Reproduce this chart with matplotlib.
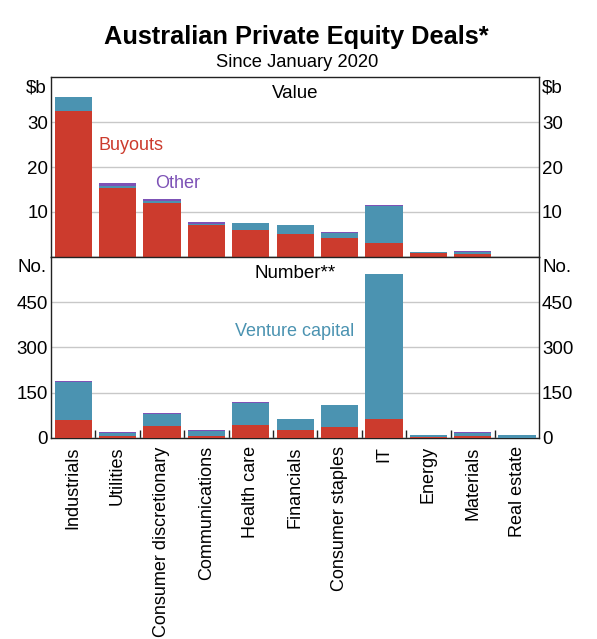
import numpy as np
import matplotlib.pyplot as plt
from matplotlib.ticker import FixedLocator

plt.rcParams["font.family"] = ["Liberation Sans", "DejaVu Sans"]

categories = ["Industrials", "Utilities", "Consumer discretionary", "Communications",
              "Health care", "Financials", "Consumer staples", "IT", "Energy",
              "Materials", "Real estate"]

# value of deals, $b
value_buyouts = [32.4, 15.4, 11.9, 7.1, 6.0, 5.0, 4.1, 3.0, 0.95, 0.75, 0.0]
value_vc = [3.2, 0.4, 0.5, 0.3, 1.5, 2.0, 1.2, 8.4, 0.15, 0.35, 0.05]
value_other = [0.1, 0.6, 0.5, 0.4, 0.05, 0.0, 0.3, 0.05, 0.0, 0.1, 0.0]

# number of deals
number_buyouts = [61, 7, 40, 7, 42, 27, 37, 63, 2, 7, 1]
number_vc = [126, 8, 41, 16, 73, 35, 71, 479, 8, 8, 9]
number_other = [1, 4, 1, 4, 4, 0, 0, 1, 0, 4, 0]

red = "#cc3b2d"
blue = "#4b93b1"
purple = "#7d52b6"

fig = plt.figure(figsize=(5.97, 6.39), dpi=100)
ax_top = fig.add_axes([0.0854, 0.598, 0.818, 0.281])
ax_bot = fig.add_axes([0.0854, 0.3146, 0.818, 0.2834])

x = np.arange(len(categories))
width = 0.84


def stacked(ax, buyouts, vc, other):
    buyouts = np.array(buyouts, dtype=float)
    vc = np.array(vc, dtype=float)
    other = np.array(other, dtype=float)
    ax.bar(x, buyouts, width, color=red, linewidth=0, zorder=3)
    ax.bar(x, vc, width, bottom=buyouts, color=blue, linewidth=0, zorder=3)
    ax.bar(x, other, width, bottom=buyouts + vc, color=purple, linewidth=0, zorder=3)


def style(ax, ymax, ticks, unit):
    ax.set_xlim(-0.5, len(categories) - 0.5)
    ax.set_ylim(0, ymax)
    ax.set_yticks(ticks)
    ax.set_yticklabels([str(t) for t in ticks])
    ax.tick_params(axis="y", length=0, labelsize=13.5, pad=2,
                   left=True, right=True, labelleft=True, labelright=True)
    ax.grid(axis="y", color="#c8c8c8", linewidth=1, zorder=0)
    for s in ax.spines.values():
        s.set_linewidth(1)
        s.set_color("#222222")
    ax.text(-0.008, 0.99, unit, transform=ax.transAxes, ha="right", va="top", fontsize=13.5)
    ax.text(1.006, 0.99, unit, transform=ax.transAxes, ha="left", va="top", fontsize=13.5)


stacked(ax_top, value_buyouts, value_vc, value_other)
stacked(ax_bot, number_buyouts, number_vc, number_other)

style(ax_top, 40, [10, 20, 30], "$b")
style(ax_bot, 600, [0, 150, 300, 450], "No.")

ax_top.set_xticks([])
ax_top.text(0.5, 0.955, "Value", transform=ax_top.transAxes, ha="center", va="top", fontsize=13.5)
ax_bot.text(0.5, 0.955, "Number**", transform=ax_bot.transAxes, ha="center", va="top", fontsize=13.5)

ax_bot.set_xticks(x)
ax_bot.set_xticklabels(categories, rotation=90, fontsize=13)
ax_bot.tick_params(axis="x", which="major", length=0, pad=6)
ax_bot.xaxis.set_minor_locator(FixedLocator(np.arange(0.5, len(categories) - 1, 1.0)))
ax_bot.tick_params(axis="x", which="minor", direction="in", length=6, width=1, color="#222222")

# series labels
ax_top.text(0.56, 24.9, "Buyouts", color=red, fontsize=13, va="center")
ax_top.text(1.84, 16.4, "Other", color=purple, fontsize=13, va="center")
ax_bot.text(3.64, 353, "Venture capital", color=blue, fontsize=13, va="center")

fig.text(0.497, 0.942, "Australian Private Equity Deals*", ha="center", va="center",
         fontsize=18.3, fontweight="bold")
fig.text(0.497, 0.902, "Since January 2020", ha="center", va="center", fontsize=13.2)

fig.savefig("out.png", dpi=100)
